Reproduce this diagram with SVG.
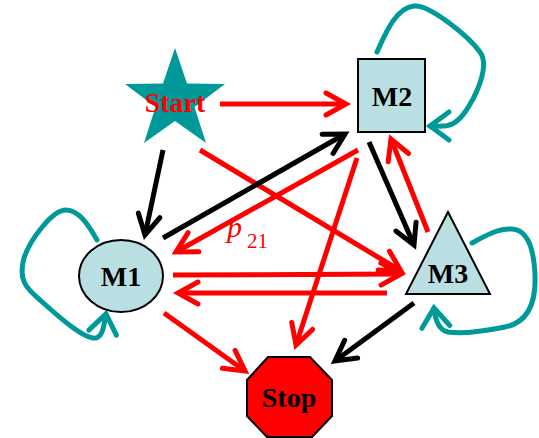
<svg xmlns="http://www.w3.org/2000/svg" width="539" height="438" viewBox="0 0 539 438">
<style>
.r{stroke:#ff0000;stroke-width:5;fill:none;marker-end:url(#ar)}
.k{stroke:#000;stroke-width:5;fill:none;marker-end:url(#ak)}
.t{stroke:#009999;stroke-width:5;fill:none;stroke-linejoin:round;stroke-linecap:round;marker-end:url(#at)}
.node{fill:#b9dfe3;stroke:#000;stroke-width:2}
.lbl{font-family:"Liberation Serif",serif;font-weight:bold;font-size:28px;text-anchor:middle}
</style>
<defs>
<marker id="ar" markerUnits="userSpaceOnUse" orient="auto" refX="0" refY="0" overflow="visible" markerWidth="1" markerHeight="1"><path d="M-20,-11 L0,0 L-20,11" fill="none" stroke="#ff0000" stroke-width="5" stroke-linecap="round"/></marker>
<marker id="ak" markerUnits="userSpaceOnUse" orient="auto" refX="0" refY="0" overflow="visible" markerWidth="1" markerHeight="1"><path d="M-20,-11 L0,0 L-20,11" fill="none" stroke="#000" stroke-width="5" stroke-linecap="round"/></marker>
<marker id="at" markerUnits="userSpaceOnUse" orient="auto" refX="0" refY="0" overflow="visible" markerWidth="1" markerHeight="1"><path d="M-19,-14 L0,0 L-19,14" fill="none" stroke="#009999" stroke-width="5" stroke-linecap="round"/></marker>
</defs>
<g id="connectors">
<line class="r" x1="220" y1="104" x2="346" y2="104"/>
<line class="k" x1="163" y1="150" x2="145" y2="235"/>
<line class="r" x1="200" y1="150" x2="401" y2="271"/>
<line class="k" x1="163" y1="238" x2="345" y2="134"/>
<line class="r" x1="358" y1="150" x2="176" y2="252"/>
<line class="r" x1="357" y1="158" x2="296" y2="345"/>
<line class="k" x1="369" y1="142" x2="414" y2="245"/>
<line class="r" x1="428" y1="232" x2="391" y2="139"/>
<line class="r" x1="173" y1="275" x2="401" y2="274"/>
<line class="r" x1="387" y1="293" x2="178" y2="293"/>
<line class="r" x1="164" y1="313" x2="245" y2="371"/>
<line class="k" x1="414" y1="303" x2="335" y2="361"/>
<path class="t" d="M377,52 C386,32 396,8 414,6 C430,4 470,38 480,52 C492,68 470,110 458,120 C450,128 440,126 430,126"/>
<path class="t" d="M97,240 C90,228 80,210 66,210 C52,210 30,240 24,258 C18,280 26,288 40,300 C60,318 85,340 96,338 C103,336 104,325 106,314"/>
<path class="t" d="M472,243 C485,236 498,228 512,229 C528,230 534,250 535,275 C536,300 530,322 505,327 C485,331 460,334 448,332 C438,330 435,318 434,308"/>
<g id="label-p21" fill="#ff0000" font-family="'Liberation Serif',serif" font-style="italic"><text x="227" y="237" font-size="30">p</text><text x="247" y="248" font-size="21" font-style="normal">21</text></g>
</g>
<g id="start">
<polygon points="175,48 187,83.5 225,84 194.5,107 206,143 175,121 144,143 155.5,107 125,84 163,83.5" fill="#009999"/>
<text class="lbl" x="175" y="112" fill="#ff0000">Start</text>
</g>
<g id="M2">
<rect class="node" x="358" y="59" width="67" height="73"/>
<text class="lbl" x="392" y="106">M2</text>
</g>
<g id="M1">
<ellipse class="node" cx="121" cy="276" rx="42" ry="36"/>
<text class="lbl" x="121" y="286">M1</text>
</g>
<g id="M3">
<polygon class="node" points="448,212 490,294 406,294"/>
<text class="lbl" x="448" y="283">M3</text>
</g>
<g id="stop">
<polygon points="268,357 310,357 332,380 332,416 312,437 267,437 247,416 247,380" fill="#ff0000" stroke="#000" stroke-width="2"/>
<text class="lbl" x="289" y="407">Stop</text>
</g>
</svg>
